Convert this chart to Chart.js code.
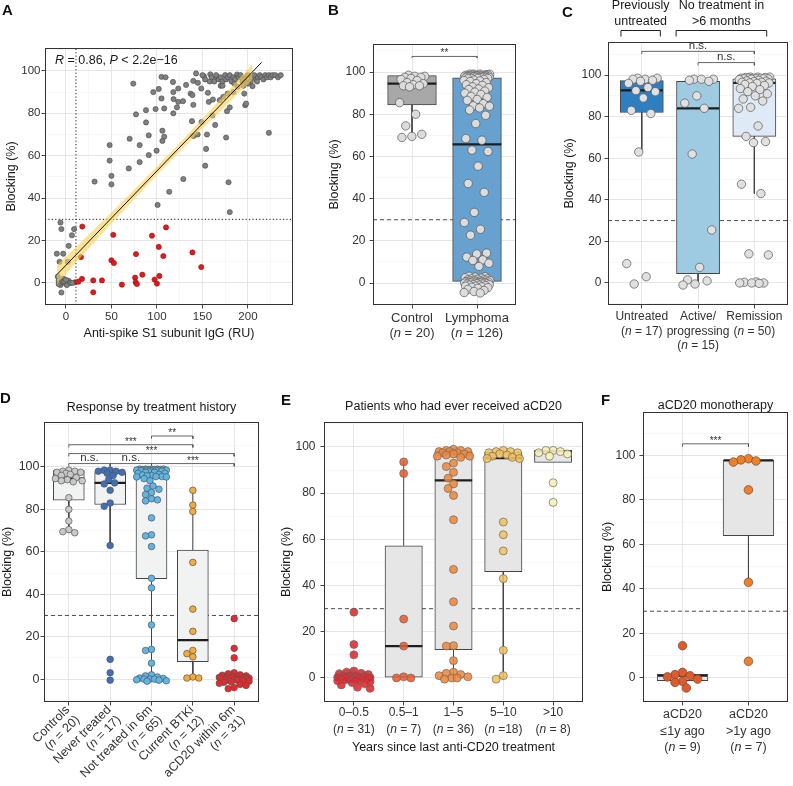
<!DOCTYPE html>
<html>
<head>
<meta charset="utf-8">
<script src="https://cdn.jsdelivr.net/npm/chart.js@4.4.1/dist/chart.umd.min.js"></script>
<style>
body { margin: 0; background: #fff; }
#fig { position: relative; width: 793px; height: 786px; overflow: hidden; font-family: "Liberation Sans", Arial, sans-serif; }
#fig canvas { position: absolute; }
.lab { position: absolute; font-weight: bold; font-size: 15px; line-height: 15px; color: #111; }
</style>
</head>
<body>
<div id="fig">
  <canvas id="chartA" width="300" height="345" style="left:0px;top:0px"></canvas>
  <canvas id="chartB" width="206" height="345" style="left:324px;top:0px"></canvas>
  <canvas id="chartC" width="234" height="360" style="left:559px;top:0px"></canvas>
  <canvas id="chartD" width="268" height="400" style="left:0px;top:386px"></canvas>
  <canvas id="chartE" width="314" height="400" style="left:276px;top:386px"></canvas>
  <canvas id="chartF" width="196" height="400" style="left:597px;top:386px"></canvas>
  <div class="lab" style="left:2px;top:2px">A</div>
  <div class="lab" style="left:328px;top:2px">B</div>
  <div class="lab" style="left:562px;top:4px">C</div>
  <div class="lab" style="left:0px;top:390px">D</div>
  <div class="lab" style="left:281px;top:392px">E</div>
  <div class="lab" style="left:601px;top:392px">F</div>
</div>
<script>
/* Panel A: IgG vs blocking */
let aGrayX = [-10, -7, -6, -5, -3, 3, 6.6, 9, 2, -9, -8, -7, -6, -5, -3, -1, 1, 3, 5, 7, -4, -8, -2, 0,
  31.5, 48, 48, 50, 50, 69, 70, 74, 77, 81, 81, 88, 88, 91, 91, 96, 98.5, 99.6, 100.7, 102, 105, 105, 106, 106, 108, 108, 109.5,
  113.5, 118, 117.6, 118, 118.3, 122, 123.4, 123.4, 128.6, 129, 132, 137, 138.5, 139, 140, 140, 140, 143, 144.7, 145, 148.7, 149,
  151.6, 153, 154, 155, 156, 157, 158, 158.6, 161, 161.5, 164, 166, 169, 170, 173, 176, 177, 177.7, 178.7, 180, 180, 184, 188,
  188.6, 197, 198, 196, 205, 223,
  150, 153, 160, 163, 165, 168, 170, 172, 175, 176, 178, 180, 182, 184, 186, 190, 192, 194, 196, 198, 200, 201, 203, 205, 207,
  209, 211, 213, 215, 217, 219, 221, 223, 225, 227, 230, 233, 236, 195, 200, 210, 185, 172];
let aGrayY = [13.8, 10, 28.5, 25.4, 13.8, 17.5, 22.5, 25.4, 10, 3, 1, 0, -1, -4.5, 2, 0, -1, 1, 0, 0, 0.5, -0.5, 0.8, 1.5,
  47.8, 65, 57.7, 50.5, 46.5, 54, 68, 94, 79.5, 65, 57, 75.7, 81.5, 69.6, 60.3, 90, 82, 62.4, 36.8, 91.5, 97.2, 87, 71.8, 67, 69, 82.3, 97,
  43, 90, 94.8, 80, 86.7, 82.8, 91.7, 85.4, 85.7, 49, 93.4, 89.3, 76.3, 88.6, 69.3, 84, 95.3, 98.8, 70, 94.4, 91.7, 75.9,
  97.5, 55.3, 63.2, 70, 89.7, 85.4, 95, 98.4, 79, 86.5, 74.5, 96.9, 86.2, 93, 87.8, 68.6, 81, 89.3, 47.5, 33.4, 82.8, 90, 98.3,
  92.5, 83.8, 84.6, 89.3, 92.8, 70.8,
  98, 96, 97, 95, 98, 96, 97, 95, 98, 96, 97, 98, 95, 97, 96, 97, 98, 95, 96, 97, 98, 96, 95, 97, 98,
  96, 97, 98, 97, 96, 98, 97, 98, 97, 98, 98, 97, 98, 93, 94, 95, 94, 93];
let aRedX = [18, 16.5, 17.6, 10, 13.6, 30, 30, 39.6, 52, 50, 52.7, 61.5, 77, 76, 76.6, 78, 84, 94.5, 97.4, 100, 102, 102.6, 107, 110, 139, 148.7];
let aRedY = [26.6, 12.2, 1.9, 0.3, 0.6, 1.2, -4.4, 1.2, 22.7, 10.7, 9.4, -0.8, 13.6, 2.5, 0.3, -0.5, 3.9, 22.3, 1.6, -0.3, 17, 3.3, 12.7, 26.2, 14.4, 7.5];
let aFitX = [-10, 215];
let aFitY = [3.9, 104];
let aBandX = [-10, 0, 25, 50, 75, 100, 125, 150, 175, 205];
let aBandLo = [-0.6, 4.35, 16.3, 28.0, 39.5, 50.9, 62.0, 72.8, 83.3, 96.0];
let aBandHi = [8.4, 12.35, 22.7, 33.2, 43.9, 54.9, 66.0, 77.4, 89.1, 103.2];
let aCutX = 11;
let cutY = 30;

/* Panel B */
let bLabels = [["Control", "(n = 20)"], ["Lymphoma", "(n = 126)"]];
let bControl = [98.5, 98, 98, 97.5, 97.5, 97, 96.5, 96, 95, 94.5, 94, 93.5, 93.5, 93, 85.5, 80, 74.5, 70.5, 69.5, 69];
let bLymphoma = [99, 99, 99, 99, 98.8, 98.5, 98.5, 98.5, 98.5, 98.5, 98.2, 98.2, 98.2, 98, 98, 98, 98, 98, 98,
  97.8, 97.8, 97.8, 97.5, 97.5, 97.5, 97.5, 97.5, 97.2, 97.2, 97, 97, 97,
  96.8, 96.5, 96.2, 96, 95.8, 95.5, 95, 94.5, 94, 93.7, 93, 92.6, 92, 91.7, 91, 90.5, 90, 89.4, 88.5, 88, 87, 86.6, 85, 84, 83.8, 83, 82,
  79.5, 75.6, 68.5, 67.7, 63, 62.4, 55.4, 47.2, 43, 33.5, 28.7, 25.5, 22.7, 14.2, 13.8, 12.3, 11, 10.7, 9.4, 7.9,
  3.2, 3, 2.8, 2.5, 2.3, 2, 2, 1.8, 1.5, 1.5, 1.3, 1.2, 1, 1, 1, 0.8,
  0.7, 0.5, 0.5, 0.5, 0.3, 0.3, 0.2, 0, 0, 0, 0, -0.2, -0.3, -0.5, -0.5, -0.7, -0.8, -1, -1, -1.2, -1.5, -1.5, -1.8, -2, -2.2, -2.5, -3, -3.5, -4, -4.5, -4.7];
let bQ1 = [84.4, 0.8], bMed = [94.5, 65.7], bQ3 = [98.3, 97.3], bLo = [69, -4.7], bHi = [98.5, 99];
let bBrackets = [[1, 2, 107.4, 0.7, "**"]];

/* Panel C */
let cLabels = [["Untreated", "(n = 17)"], ["Active/", "progressing", "(n = 15)"], ["Remission", "(n = 50)"]];
let cUntreated = [98.5, 98.5, 98, 98, 97.5, 97, 96, 94, 92.5, 92, 89, 83, 81.5, 63, 9.3, 3, -0.5];
let cActive = [98, 98, 98, 97.5, 97, 90, 86.5, 84, 62, 25.5, 7.5, 1.5, 1, -0.5, -1];
let cRemission = [99, 99, 99, 98.8, 98.8, 98.5, 98.5, 98.5, 98.5, 98.2, 98.2, 98.2, 98.2, 98, 97.8, 97.5, 97.2, 97, 96.8, 96.5, 96.5,
  96.2, 96.2, 96, 95.5, 95, 94.5, 93.5, 93, 92, 91, 90, 88.5, 87.5, 84.5, 84, 75.5, 70.5, 68, 67.5, 47.5, 43, 14, 13.5, 0.5, 0.3, 0, 0, 0, -0.2];
let cQ1 = [82, 4.5, 70.5], cMed = [92.6, 84, 96.2], cQ3 = [97.3, 97, 98.2], cLo = [63, -1, 43], cHi = [98.5, 98, 99];
let cBrackets = [[1, 3, 111.4, 1.3, "n.s."], [2, 3, 106, 1.3, "n.s."]];
let cGroupSpan = [[0.63, 1.33], [1.61, 3.22]];
let cGroupText = [["Previously", "untreated"], ["No treatment in", ">6 months"]];

/* Panel D */
let dLabels = [["Controls", "(n = 20)"], ["Never treated", "(n = 17)"], ["Not treated in 6m", "(n = 65)"], ["Current BTKi", "(n = 12)"], ["aCD20 within 6m", "(n = 31)"]];
let dNotTreated = [99, 99, 99, 99, 99, 98.8, 98.8, 98.8, 98.8, 98.5, 98.5, 98.5, 98.5, 98.5, 98.5, 98.5, 98.5,
  98.2, 98, 98, 97.8, 97.5, 97.5, 97, 97, 96.5, 96.2, 96, 95.8, 95.5, 95.5, 95.3, 95.3,
  94.5, 93.5, 91, 90, 89.5, 88, 87, 85, 84.5, 84, 76, 68, 67.5, 62.5, 47.5,
  43, 25.5, 14, 13.5, 7.5, 2, 1.5, 1, 0.5, 0.3, 0, 0, 0, -0.3, -0.5, -0.8, -1];
let dBTKi = [89, 82, 79, 55, 33, 22.5, 13.5, 12, 10.5, 1, 0.5, 0.5];
let dRecent = [28.5, 14.5, 10, 3, 2.5, 2, 1.8, 1.5, 1.2, 1, 1, 0.8, 0.5, 0.5, 0.3, 0.2, 0, 0, 0, -0.2, -0.5, -0.5, -0.8, -1, -1.2, -1.5, -2, -2.5, -3, -4, -4.5];
let dQ1 = [84.3, 82.3, 47.3, 8.2, -0.5], dMed = [94.5, 92.5, 95.3, 18.4, 0.3], dQ3 = [98.3, 97.3, 99, 60.8, 1.2];
let dLo = [69, 63, -1, 0.5, -0.5], dHi = [98.5, 98.5, 99, 89, 1.2];
let dBrackets = [[3, 4, 114.6, 1.3, "**"], [1, 4, 110.5, 1.3, "***"], [1, 5, 106.3, 1.3, "***"],
  [1, 2, 101.6, 1.3, "n.s."], [2, 3, 101.6, 1.3, "n.s."], [3, 5, 101.6, 1.3, "***"]];

/* Panel E */
let eLabels = [["0\u20130.5", "(n = 31)"], ["0.5\u20131", "(n = 7)"], ["1\u20135", "(n = 36)"], ["5\u201310", "(n =18)"], [">10", "(n = 8)"]];
let eHalfYear = dRecent;
let eOneYear = [93.5, 88.5, 25.5, 13.8, 0.5, 0, 0];
let eFiveYears = [99, 98.5, 98.5, 98, 98, 98, 97.5, 97.5, 97, 97, 96.5, 96, 96, 95.5,
  93, 91.5, 89, 86.5, 84, 82, 79, 68.5, 47, 33, 22.5, 14, 13.8, 7.5, 2.5, 2, 1.5, 1, 0.5, 0, 0, -0.5];
let eTenYears = [98.5, 98, 98, 97.5, 97.5, 97, 96.5, 96, 95.5, 95, 95, 67.5, 62, 55, 43, 12, 1, -0.5];
let eOver = [98.5, 98.5, 98, 97.5, 97, 96, 84.5, 76];
let eQ1 = [-0.8, 0.4, 12.3, 46, 93.3], eMed = [0.3, 13.8, 85.5, 95.2, 98.2], eQ3 = [0.8, 57.2, 98, 97.7, 98.3];
let eLo = [-0.8, 0, -0.5, -0.5, 93.3], eHi = [0.8, 93.5, 99, 98.5, 98.5];

/* Panel F */
let fLabels = [["aCD20", "\u22641y ago", "(n = 9)"], ["aCD20", ">1y ago", "(n = 7)"]];
let fRecent = [14.5, 2.5, 1.5, 1, 0.5, -0.5, -1.5, -2, -4.5];
let fEarlier = [98.5, 98, 97.5, 97, 84.5, 43, 7.5];
let fQ1 = [-1.2, 63.9], fMed = [1, 97.8], fQ3 = [1.6, 97.8], fLo = [-1.2, 43], fHi = [1.6, 98.5];
let fBrackets = [[1, 2, 105.2, 1.3, "***"]];

/* Shared styling */
const FONT = '"Liberation Sans", Arial, Helvetica, sans-serif';
const GRID_MAJOR = "#e3e3e3";
const GRID_MINOR = "#f1f1f1";
const INK = "#333";

function isMajorY(v) { return v % 20 === 0 && v >= 0 && v <= 100; }

function yScale(o) {
    return {
        type: "linear", min: o.min, max: o.max, offset: false, beginAtZero: false,
        afterFit: function (s) { s.width = o.w; },
        ticks: {
            stepSize: 10, includeBounds: false, autoSkip: false,
            callback: function (v) { return isMajorY(v) ? String(v) : ""; },
            font: { family: FONT, size: o.size }, color: INK, padding: o.pad
        },
        grid: {
            offset: false,
            color: function (c) { return c.tick && isMajorY(c.tick.value) ? GRID_MAJOR : GRID_MINOR; },
            lineWidth: function (c) { return c.tick && isMajorY(c.tick.value) ? 0.9 : 0.6; },
            tickColor: function (c) { return c.tick && isMajorY(c.tick.value) ? INK : "rgba(0,0,0,0)"; },
            tickLength: 3.5
        },
        border: { display: false },
        title: { display: true, text: "Blocking (%)", font: { family: FONT, size: 12.5 }, color: "#1a1a1a", padding: { top: o.tpad, bottom: 0 } }
    };
}

function catScale(n, h) {
    return {
        type: "linear", min: 0.4, max: n + 0.6, offset: false,
        afterFit: function (s) { s.height = h; },
        ticks: { stepSize: 1, includeBounds: false, autoSkip: false, maxRotation: 0, callback: function () { return ""; } },
        grid: { offset: false, color: GRID_MAJOR, lineWidth: 0.9, tickColor: INK, tickLength: 3.5 },
        border: { display: false }
    };
}

function layoutFor(fr) {
    return { padding: { top: fr.t - fr.cy, right: fr.cx + fr.cw - fr.r, left: 0, bottom: 0 } };
}

/* Text with italic n (or other parts) */
function richParts(line) {
    let m = line.match(/^\((n)(.*)$/);
    return m ? [["(", 0], ["n", 1], [m[2], 0]] : [[line, 0]];
}
function drawRich(ctx, parts, x, y, size, align, color) {
    let widths = parts.map(function (p) {
        ctx.font = (p[1] ? "italic " : "") + size + "px " + FONT;
        return ctx.measureText(p[0]).width;
    });
    let total = widths.reduce(function (a, b) { return a + b; }, 0);
    let sx = align === "center" ? x - total / 2 : (align === "right" ? x - total : x);
    ctx.fillStyle = color || INK;
    ctx.textAlign = "left";
    ctx.textBaseline = "middle";
    parts.forEach(function (p, k) {
        ctx.font = (p[1] ? "italic " : "") + size + "px " + FONT;
        ctx.fillText(p[0], sx, y);
        sx += widths[k];
    });
}

function drawBorder(chart) {
    let a = chart.chartArea, ctx = chart.ctx;
    ctx.save();
    ctx.strokeStyle = "#333";
    ctx.lineWidth = 1;
    ctx.strokeRect(Math.round(a.left) + 0.5, Math.round(a.top) + 0.5, Math.round(a.right - a.left) - 1, Math.round(a.bottom - a.top) - 1);
    ctx.restore();
}

/* Point spreading (deterministic) */
function jitter(n, w) {
    let out = [];
    for (let k = 0; k < n; k++) out.push((((k * 0.6180339887 + 0.37) % 1) - 0.5) * 2 * w);
    return out;
}
function swarm(vals, r, pxX, pxY, maxW) {
    let order = vals.map(function (v, i) { return i; }).sort(function (a, b) { return vals[b] - vals[a]; });
    let placed = [], out = new Array(vals.length);
    let d = 1.75 * r, step = r * 0.45, lim = maxW * pxX;
    order.forEach(function (i) {
        let y = vals[i] * pxY, best = 0, bestGap = -1;
        for (let k = 0; ; k++) {
            let off = (k % 2 ? -1 : 1) * Math.ceil(k / 2) * step;
            if (Math.abs(off) > lim) break;
            let gap = Infinity;
            placed.forEach(function (p) { let g = Math.hypot(p.x - off, p.y - y); if (g < gap) gap = g; });
            if (gap >= d) { best = off; break; }
            if (gap > bestGap) { bestGap = gap; best = off; }
        }
        placed.push({ x: best, y: y });
        out[i] = best / pxX;
    });
    return out;
}

/* Box plot panel built from floating bars + line datasets + scatter points */
function boxChart(id, fr, c) {
    let n = c.groups.length, xmin = 0.4, xmax = n + 0.6;
    let pxX = (fr.r - fr.l) / (xmax - xmin);
    let pxY = (fr.b - fr.t) / (c.ymax - c.ymin);
    let hw = 0.375;
    let ds = [];

    ds.push({ type: "line", data: [{ x: xmin, y: cutY }, { x: xmax, y: cutY }], borderColor: "#4d4d4d", borderWidth: 1,
        borderDash: [4, 3], pointRadius: 0, order: 10 });

    ds.push({ type: "bar", data: c.groups.map(function (g, i) { return { x: i + 1, y: [c.q1[i], c.q3[i]] }; }),
        backgroundColor: c.boxFill, borderColor: "#444", borderWidth: 1, borderSkipped: false,
        barThickness: 2 * hw * pxX, order: 9 });

    let wh = [];
    c.groups.forEach(function (g, i) {
        wh.push({ x: i + 1, y: c.q3[i] }, { x: i + 1, y: c.hi[i] }, { x: i + 1, y: null },
                { x: i + 1, y: c.q1[i] }, { x: i + 1, y: c.lo[i] }, { x: i + 1, y: null });
    });
    ds.push({ type: "line", data: wh, borderColor: "#444", borderWidth: 1, pointRadius: 0, order: 8 });

    let md = [];
    c.groups.forEach(function (g, i) {
        md.push({ x: i + 1 - hw, y: c.med[i] }, { x: i + 1 + hw, y: c.med[i] }, { x: i + 1, y: null });
    });
    ds.push({ type: "line", data: md, borderColor: "#1e1e1e", borderWidth: 2.2, pointRadius: 0, order: 7 });

    let br = [];
    c.brackets.forEach(function (b) {
        br.push({ x: b[0], y: b[2] - b[3] }, { x: b[0], y: b[2] }, { x: b[1], y: b[2] }, { x: b[1], y: b[2] - b[3] }, { x: b[1], y: null });
    });
    ds.push({ type: "line", data: br, borderColor: "#555", borderWidth: 0.9, pointRadius: 0, order: 6 });

    c.groups.forEach(function (vals, i) {
        let offs = c.spread === "swarm" ? swarm(vals, c.r, pxX, pxY, c.maxW) : jitter(vals.length, c.maxW);
        ds.push({ type: "scatter", data: vals.map(function (v, k) { return { x: i + 1 + offs[k], y: v }; }),
            backgroundColor: c.ptFill[i], borderColor: c.ptLine || "#555", borderWidth: 0.7,
            pointRadius: c.r, order: 1 });
    });

    let deco = {
        id: "deco",
        afterDatasetsDraw: function (chart) {
            let ctx = chart.ctx, xs = chart.scales.x, ys = chart.scales.y;
            ctx.save();
            c.brackets.forEach(function (b) {
                let px = xs.getPixelForValue((b[0] + b[1]) / 2), py = ys.getPixelForValue(b[2]);
                let star = b[4].indexOf("*") === 0;
                ctx.font = (star ? 10 : 11.5) + "px " + FONT;
                ctx.fillStyle = INK;
                ctx.textAlign = "center";
                ctx.textBaseline = "alphabetic";
                ctx.fillText(b[4], px, py - (star ? 0 : 2.5));
            });
            ctx.restore();
        },
        afterDraw: function (chart) {
            let ctx = chart.ctx, xs = chart.scales.x, a = chart.chartArea;
            drawBorder(chart);
            ctx.save();
            c.labels.forEach(function (lines, i) {
                let px = xs.getPixelForValue(i + 1);
                if (c.rotate) {
                    ctx.save();
                    ctx.translate(px - 6, a.bottom + 1);
                    ctx.rotate(-Math.PI / 4);
                    lines.forEach(function (ln, j) {
                        drawRich(ctx, richParts(ln), 0, 7 + j * 14, c.labSize, "right");
                    });
                    ctx.restore();
                } else {
                    lines.forEach(function (ln, j) {
                        drawRich(ctx, richParts(ln), px, a.bottom + c.labY0 + j * c.labDy, c.labSize, "center");
                    });
                }
            });
            if (c.title) {
                drawRich(ctx, [[c.title, 0]], (a.left + a.right) / 2, a.top - c.titleDy, 12.5, "center", "#1a1a1a");
            }
            if (c.xTitle) {
                drawRich(ctx, [[c.xTitle, 0]], (a.left + a.right) / 2, a.bottom + c.xTitleDy, 12.5, "center", "#1a1a1a");
            }
            if (c.extra) c.extra(chart);
            ctx.restore();
        }
    };

    new Chart(document.getElementById(id), {
        type: "scatter",
        data: { datasets: ds },
        options: {
            responsive: false, animation: false, events: [],
            layout: layoutFor(fr),
            plugins: { legend: { display: false }, tooltip: { enabled: false } },
            scales: {
                x: catScale(n, fr.cy + fr.ch - fr.b),
                y: yScale({ min: c.ymin, max: c.ymax, w: fr.l - fr.cx, size: c.tickSize, pad: c.tickPad, tpad: c.tpad })
            }
        },
        plugins: [deco]
    });
}

/* Panel A chart */
(function () {
    let fr = { cx: 0, cy: 0, cw: 300, ch: 345, l: 45, t: 48, r: 293, b: 305 };
    let xmin = -23, xmax = 249.5, ymin = -10.4, ymax = 110.8;
    let isMajorX = function (v) { return v % 50 === 0 && v >= 0 && v <= 200; };
    let ptsGray = aGrayX.map(function (x, i) { return { x: x, y: aGrayY[i] }; });
    let ptsRed = aRedX.map(function (x, i) { return { x: x, y: aRedY[i] }; });
    let deco = {
        id: "decoA",
        afterDraw: function (chart) {
            let a = chart.chartArea;
            drawBorder(chart);
            drawRich(chart.ctx, [["R", 1], [" = 0.86, ", 0], ["P", 1], [" < 2.2e\u221216", 0]], a.left + 10, a.top + 13, 12.5, "left", "#1a1a1a");
        }
    };
    new Chart(document.getElementById("chartA"), {
        type: "scatter",
        data: {
            datasets: [
                { type: "line", data: [{ x: aCutX, y: ymin }, { x: aCutX, y: ymax }], borderColor: "#222", borderWidth: 1, borderDash: [1.2, 2.2], pointRadius: 0, order: 10 },
                { type: "line", data: [{ x: xmin, y: cutY }, { x: xmax, y: cutY }], borderColor: "#222", borderWidth: 1, borderDash: [1.2, 2.2], pointRadius: 0, order: 10 },
                { data: ptsGray, backgroundColor: "#808080", borderColor: "#474747", borderWidth: 0.6, pointRadius: 2.6, order: 4 },
                { data: ptsRed, backgroundColor: "#e31a1c", borderColor: "#8c1313", borderWidth: 0.6, pointRadius: 2.6, order: 4 },
                { type: "line", data: aBandX.map(function (x, i) { return { x: x, y: aBandLo[i] }; }), borderWidth: 0, pointRadius: 0, fill: false, order: 3 },
                { type: "line", data: aBandX.map(function (x, i) { return { x: x, y: aBandHi[i] }; }), borderWidth: 0, pointRadius: 0,
                  fill: "-1", backgroundColor: "rgba(247, 210, 85, 0.62)", order: 2 },
                { type: "line", data: aFitX.map(function (x, i) { return { x: x, y: aFitY[i] }; }), borderColor: "#111", borderWidth: 1, pointRadius: 0, order: 1 }
            ]
        },
        options: {
            responsive: false, animation: false, events: [],
            layout: layoutFor(fr),
            plugins: { legend: { display: false }, tooltip: { enabled: false } },
            scales: {
                x: {
                    type: "linear", min: xmin, max: xmax, offset: false,
                    afterFit: function (s) { s.height = 40; },
                    ticks: { stepSize: 25, includeBounds: false, autoSkip: false, maxRotation: 0,
                        callback: function (v) { return isMajorX(v) ? String(v) : ""; },
                        font: { family: FONT, size: 11.5 }, color: INK, padding: 1.5 },
                    grid: {
                        offset: false,
                        color: function (c) { return c.tick && isMajorX(c.tick.value) ? GRID_MAJOR : GRID_MINOR; },
                        lineWidth: function (c) { return c.tick && isMajorX(c.tick.value) ? 0.9 : 0.6; },
                        tickColor: function (c) { return c.tick && isMajorX(c.tick.value) ? INK : "rgba(0,0,0,0)"; },
                        tickLength: 3.5
                    },
                    border: { display: false },
                    title: { display: true, text: "Anti-spike S1 subunit IgG (RU)", font: { family: FONT, size: 12.5 }, color: "#1a1a1a", padding: { top: 0, bottom: 3.5 } }
                },
                y: yScale({ min: ymin, max: ymax, w: 45, size: 11.5, pad: 1, tpad: 4.5 })
            }
        },
        plugins: [deco]
    });
})();

/* Panel B */
boxChart("chartB", { cx: 324, cy: 0, cw: 206, ch: 345, l: 373, t: 44, r: 516, b: 305 }, {
    groups: [bControl, bLymphoma], q1: bQ1, med: bMed, q3: bQ3, lo: bLo, hi: bHi, brackets: bBrackets,
    boxFill: ["#a8a8a8", "#66a1cf"], ptFill: ["#dcdcdc", "#dcdcdc"], r: 4.2, spread: "jitter", maxW: 0.2,
    ymin: -10.4, ymax: 113.3, tickSize: 12, tickPad: 4, tpad: 3.5,
    labels: bLabels, labSize: 13, labY0: 13, labDy: 15
});

/* Panel C */
boxChart("chartC", { cx: 559, cy: 0, cw: 234, ch: 360, l: 608, t: 42, r: 792, b: 305 }, {
    groups: [cUntreated, cActive, cRemission], q1: cQ1, med: cMed, q3: cQ3, lo: cLo, hi: cHi, brackets: cBrackets,
    boxFill: ["#2f7ec1", "#9ecae2", "#deebf7"], ptFill: ["#e0e0e0", "#e0e0e0", "#e0e0e0"], r: 4.2, spread: "jitter", maxW: 0.28,
    ymin: -10.6, ymax: 115.9, tickSize: 12, tickPad: 3, tpad: 3.5,
    labels: cLabels, labSize: 12, labY0: 12, labDy: 14.5,
    extra: function (chart) {
        let ctx = chart.ctx, xs = chart.scales.x, a = chart.chartArea;
        ctx.save();
        ctx.strokeStyle = "#222";
        ctx.lineWidth = 1;
        cGroupSpan.forEach(function (s, i) {
            let x1 = xs.getPixelForValue(s[0]), x2 = xs.getPixelForValue(s[1]);
            let y = a.top - 11.5;
            ctx.beginPath();
            ctx.moveTo(x1, y + 6); ctx.lineTo(x1, y); ctx.lineTo(x2, y); ctx.lineTo(x2, y + 6);
            ctx.stroke();
            cGroupText[i].forEach(function (t, j) {
                drawRich(ctx, [[t, 0]], (x1 + x2) / 2, a.top - 36 + j * 15.5, 12.5, "center", "#1a1a1a");
            });
        });
        ctx.restore();
    }
});

/* Panel D */
boxChart("chartD", { cx: 0, cy: 386, cw: 268, ch: 400, l: 44, t: 422, r: 259, b: 702 }, {
    groups: [bControl, cUntreated, dNotTreated, dBTKi, dRecent], q1: dQ1, med: dMed, q3: dQ3, lo: dLo, hi: dHi, brackets: dBrackets,
    boxFill: ["#f1f3f3", "#f1f3f3", "#f1f3f3", "#f1f3f3", "#f1f3f3"],
    ptFill: ["#c9c9c9", "#3f6fba", "#5cb7e8", "#f7aa3c", "#e8282b"], r: 3.3, spread: "swarm", maxW: 0.36,
    ymin: -10.8, ymax: 121.2, tickSize: 12.5, tickPad: 1, tpad: 0,
    labels: dLabels, labSize: 12.5, rotate: true,
    title: "Response by treatment history", titleDy: 14
});

/* Panel E */
boxChart("chartE", { cx: 276, cy: 386, cw: 314, ch: 400, l: 324, t: 422, r: 583, b: 702 }, {
    groups: [eHalfYear, eOneYear, eFiveYears, eTenYears, eOver], q1: eQ1, med: eMed, q3: eQ3, lo: eLo, hi: eHi, brackets: [],
    boxFill: ["#e6e6e6", "#e6e6e6", "#e6e6e6", "#e6e6e6", "#e6e6e6"],
    ptFill: ["rgba(227,38,43,0.88)", "rgba(236,91,45,0.88)", "rgba(240,135,58,0.88)", "rgba(246,194,90,0.88)", "rgba(250,240,181,0.9)"],
    ptLine: "#6a6a6a", r: 4, spread: "swarm", maxW: 0.34,
    ymin: -10.4, ymax: 110.8, tickSize: 12, tickPad: 5, tpad: 3.5,
    labels: eLabels, labSize: 12, labY0: 11, labDy: 17,
    title: "Patients who had ever received aCD20", titleDy: 15,
    xTitle: "Years since last anti-CD20 treatment", xTitleDy: 46
});

/* Panel F */
boxChart("chartF", { cx: 597, cy: 386, cw: 196, ch: 400, l: 643, t: 412, r: 792, b: 702 }, {
    groups: [fRecent, fEarlier], q1: fQ1, med: fMed, q3: fQ3, lo: fLo, hi: fHi, brackets: fBrackets,
    boxFill: ["#e6e6e6", "#e6e6e6"], ptFill: ["#e05b2b", "#f07f27"], ptLine: "#6a4a3a", r: 4.3, spread: "swarm", maxW: 0.25,
    ymin: -10.8, ymax: 119.5, tickSize: 12, tickPad: 4, tpad: 3.5,
    labels: fLabels, labSize: 12.5, labY0: 13, labDy: 16.5,
    title: "aCD20 monotherapy", titleDy: 6
});
</script>
</body>
</html>
